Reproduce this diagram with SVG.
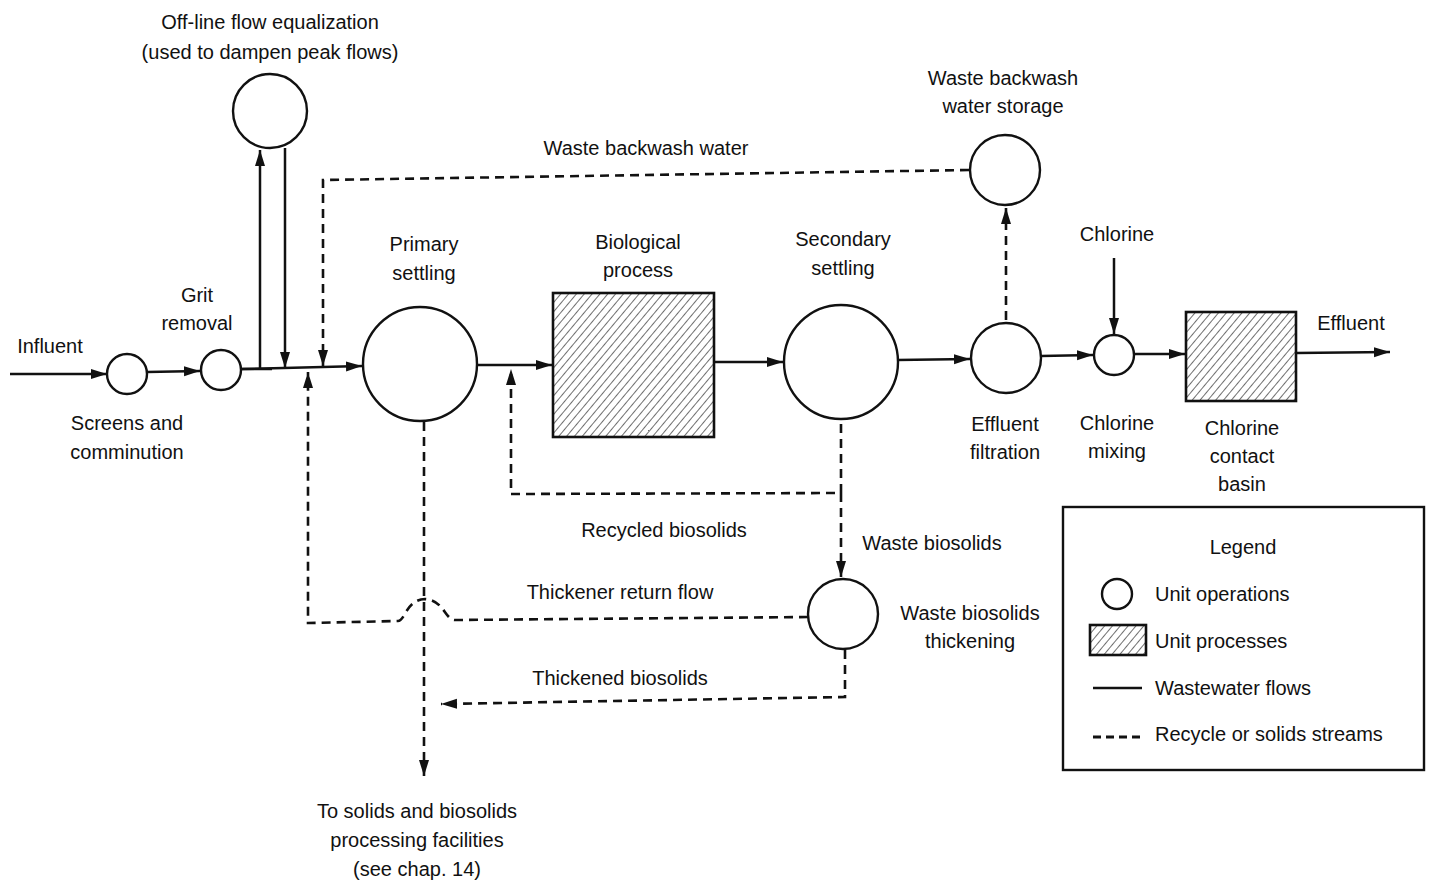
<svg xmlns="http://www.w3.org/2000/svg" width="1431" height="884" viewBox="0 0 1431 884">
<style>
text{font-family:"Liberation Sans",Arial,sans-serif;font-size:20px;fill:#111;text-anchor:middle}
.lt{text-anchor:start}
.op{fill:#fff;stroke:#111;stroke-width:2.4}
.pr{fill:url(#hatch);stroke:#111;stroke-width:2.6}
.flow{fill:none;stroke:#111;stroke-width:2.5}
.rec{fill:none;stroke:#111;stroke-width:2.6;stroke-dasharray:9,6}
</style>
<defs>
<pattern id="hatch" patternUnits="userSpaceOnUse" width="6" height="6" patternTransform="rotate(40)">
<rect width="6" height="6" fill="#fff"/>
<line x1="0" y1="0" x2="0" y2="6" stroke="#222" stroke-width="1.3"/>
</pattern>
<marker id="ah" markerUnits="userSpaceOnUse" markerWidth="17" markerHeight="12" refX="16" refY="6" orient="auto">
<path d="M0,1 L16,6 L0,11 z" fill="#111"/>
</marker>
</defs>

<g id="connectors">
<line class="flow" x1="10" y1="374" x2="107" y2="374" marker-end="url(#ah)"/>
<line class="flow" x1="147" y1="372" x2="200" y2="371" marker-end="url(#ah)"/>
<line class="flow" x1="242" y1="369" x2="362" y2="366" marker-end="url(#ah)"/>
<line class="flow" x1="242" y1="369" x2="272" y2="369" stroke-width="4"/>
<line class="flow" x1="260" y1="369" x2="260" y2="150" marker-end="url(#ah)"/>
<line class="flow" x1="285" y1="148" x2="285" y2="368" marker-end="url(#ah)"/>
<line class="flow" x1="477" y1="365" x2="552" y2="365" marker-end="url(#ah)"/>
<line class="flow" x1="714" y1="362" x2="783" y2="362" marker-end="url(#ah)"/>
<line class="flow" x1="897" y1="360" x2="970" y2="359" marker-end="url(#ah)"/>
<line class="flow" x1="1041" y1="356" x2="1093" y2="355" marker-end="url(#ah)"/>
<line class="flow" x1="1114" y1="258" x2="1114" y2="334" marker-end="url(#ah)"/>
<line class="flow" x1="1134" y1="354" x2="1185" y2="354" marker-end="url(#ah)"/>
<line class="flow" x1="1296" y1="353" x2="1390" y2="352" stroke-width="3.2" marker-end="url(#ah)"/>

<polyline class="rec" points="969,170 323,180 323,366" marker-end="url(#ah)"/>
<line class="rec" x1="1006" y1="320" x2="1006" y2="208" marker-end="url(#ah)"/>
<polyline class="rec" points="841,424 841,493 511,494 511,369" marker-end="url(#ah)"/>
<line class="rec" x1="841" y1="493" x2="841" y2="577" marker-end="url(#ah)"/>
<path class="rec" d="M808,617 L455,620 C445,620 444,600 425,599 C406,600 405,621 398,621 L308,623 L308,372" marker-end="url(#ah)"/>
<polyline class="rec" points="845,650 845,697 441,704" marker-end="url(#ah)"/>
<line class="rec" x1="424" y1="422" x2="424" y2="776" marker-end="url(#ah)"/>
</g>

<g id="flow-equalization">
<circle class="op" cx="270" cy="111" r="37"/>
<text x="270" y="29">Off-line flow equalization</text>
<text x="270" y="59">(used to dampen peak flows)</text>
</g>
<g id="influent"><text x="50" y="353">Influent</text></g>
<g id="screens">
<circle class="op" cx="127" cy="374" r="20"/>
<text x="127" y="430">Screens and</text>
<text x="127" y="459">comminution</text>
</g>
<g id="grit">
<circle class="op" cx="221" cy="370" r="20"/>
<text x="197" y="302">Grit</text>
<text x="197" y="330">removal</text>
</g>
<g id="primary">
<circle class="op" cx="420" cy="364" r="57"/>
<text x="424" y="251">Primary</text>
<text x="424" y="280">settling</text>
</g>
<g id="biological">
<rect class="pr" x="553" y="293" width="161" height="144"/>
<text x="638" y="249">Biological</text>
<text x="638" y="277">process</text>
</g>
<g id="secondary">
<circle class="op" cx="841" cy="362" r="57"/>
<text x="843" y="246">Secondary</text>
<text x="843" y="275">settling</text>
</g>
<g id="filtration">
<circle class="op" cx="1006" cy="358" r="35"/>
<text x="1005" y="431">Effluent</text>
<text x="1005" y="459">filtration</text>
</g>
<g id="backwash-storage">
<circle class="op" cx="1005" cy="170" r="35"/>
<text x="1003" y="85">Waste backwash</text>
<text x="1003" y="113">water storage</text>
</g>
<g id="chlorine-mixing">
<circle class="op" cx="1114" cy="355" r="20"/>
<text x="1117" y="241">Chlorine</text>
<text x="1117" y="430">Chlorine</text>
<text x="1117" y="458">mixing</text>
</g>
<g id="contact-basin">
<rect class="pr" x="1186" y="312" width="110" height="89"/>
<text x="1242" y="435">Chlorine</text>
<text x="1242" y="463">contact</text>
<text x="1242" y="491">basin</text>
</g>
<g id="effluent"><text x="1351" y="330">Effluent</text></g>
<g id="thickening">
<circle class="op" cx="843" cy="614" r="35"/>
<text x="970" y="620">Waste biosolids</text>
<text x="970" y="648">thickening</text>
</g>
<g id="labels">
<text x="646" y="155">Waste backwash water</text>
<text x="664" y="537">Recycled biosolids</text>
<text x="932" y="550">Waste biosolids</text>
<text x="620" y="599">Thickener return flow</text>
<text x="620" y="685">Thickened biosolids</text>
<text x="417" y="818">To solids and biosolids</text>
<text x="417" y="847">processing facilities</text>
<text x="417" y="876">(see chap. 14)</text>
</g>
<g id="legend">
<rect x="1063" y="507" width="361" height="263" fill="none" stroke="#111" stroke-width="2.4"/>
<text x="1243" y="554">Legend</text>
<circle class="op" cx="1117" cy="594" r="15"/>
<text class="lt" x="1155" y="601">Unit operations</text>
<rect class="pr" x="1090" y="625" width="56" height="30"/>
<text class="lt" x="1155" y="648">Unit processes</text>
<line class="flow" x1="1093" y1="688" x2="1142" y2="688"/>
<text class="lt" x="1155" y="695">Wastewater flows</text>
<line x1="1093" y1="737" x2="1144" y2="737" stroke="#111" stroke-width="2.8" stroke-dasharray="8,5"/>
<text class="lt" x="1155" y="741">Recycle or solids streams</text>
</g>
</svg>
